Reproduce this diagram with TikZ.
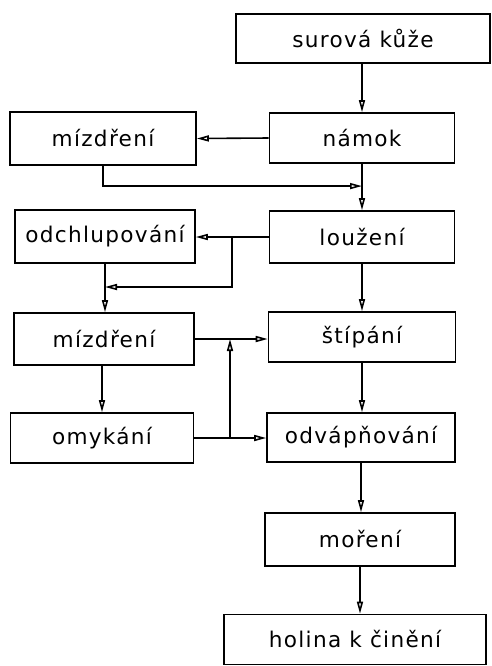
\documentclass[tikz,border=0pt]{standalone}
\usepackage{fontspec}
\setmainfont[LetterSpace=6]{DejaVu Sans}
\usetikzlibrary{arrows.meta, positioning, calc}

\tikzset{
  stage/.style={draw, line width=0.8pt, inner sep=0pt, font=\fontsize{10.8}{12}\selectfont},
  flow/.style={-{Triangle[open, length=6pt, width=3pt]}, line width=0.8pt}
}

\begin{document}
\begin{tikzpicture}[x=0.5pt, y=-0.5pt]
\useasboundingbox (0,0) rectangle (492,666);

% Main column (right)
\node[stage, minimum width=127pt, minimum height=24.5pt] (raw) at (363,38.5) {surová kůže};
\node[stage, minimum width=92.5pt, minimum height=25pt] (soak) at (362,138) {námok};
\node[stage, minimum width=92.5pt, minimum height=26pt] (lime) at (362,237) {loužení};
\node[stage, minimum width=93.5pt, minimum height=25pt] (split) at (362,337) {štípání};
\node[stage, minimum width=94pt, minimum height=24.5pt] (delime) at (361,437.5) {odvápňování};
\node[stage, minimum width=95pt, minimum height=26.5pt] (pickle) at (360,539.5) {moření};
\node[stage, minimum width=131pt, minimum height=25pt] (pelt) at (355,639.5) {holina k činění};

% Side column (left)
\node[stage, minimum width=93pt, minimum height=26.5pt] (flesh1) at (103,138.5) {mízdření};
\node[stage, minimum width=90pt, minimum height=26.5pt] (unhair) at (105,236.5) {odchlupování};
\node[stage, minimum width=90pt, minimum height=26pt] (flesh2) at (104,339) {mízdření};
\node[stage, minimum width=91.5pt, minimum height=25pt] (scud) at (102,438) {omykání};

% Main flow
\draw[flow] (raw.south -| soak) -- (soak.north);
\draw[flow] (soak.south) -- (lime.north);
\draw[flow] (lime.south) -- (lime.south |- split.north);
\draw[flow] (split.south) -- (split.south |- delime.north);
\draw[flow] (delime.south) -- (delime.south |- pickle.north);
\draw[flow] (pickle.south) -- (pickle.south |- pelt.north);

% Side branches
\draw[flow] (soak.west) -- (flesh1.east);
\coordinate (j1) at ($(soak.south)!0.48!(lime.north)$);
\draw[flow] (flesh1.south) |- (j1);

\draw[flow] (lime.west) -- (lime.west -| unhair.east);
\coordinate (b1) at (232,237);
\coordinate (j2) at (105,287);
\draw[flow] (b1) |- (j2);
\draw[flow] (unhair.south) -- (unhair.south |- flesh2.north);

\draw[flow] (flesh2.east) -- (flesh2.east -| split.west);
\draw[flow] (flesh2.south -| scud) -- (scud.north);
\draw[flow] (scud.east) -- (scud.east -| delime.west);
\coordinate (b2) at (230,438);
\coordinate (j3) at (230,339);
\draw[flow] (b2) -- (j3);
\end{tikzpicture}
\end{document}
